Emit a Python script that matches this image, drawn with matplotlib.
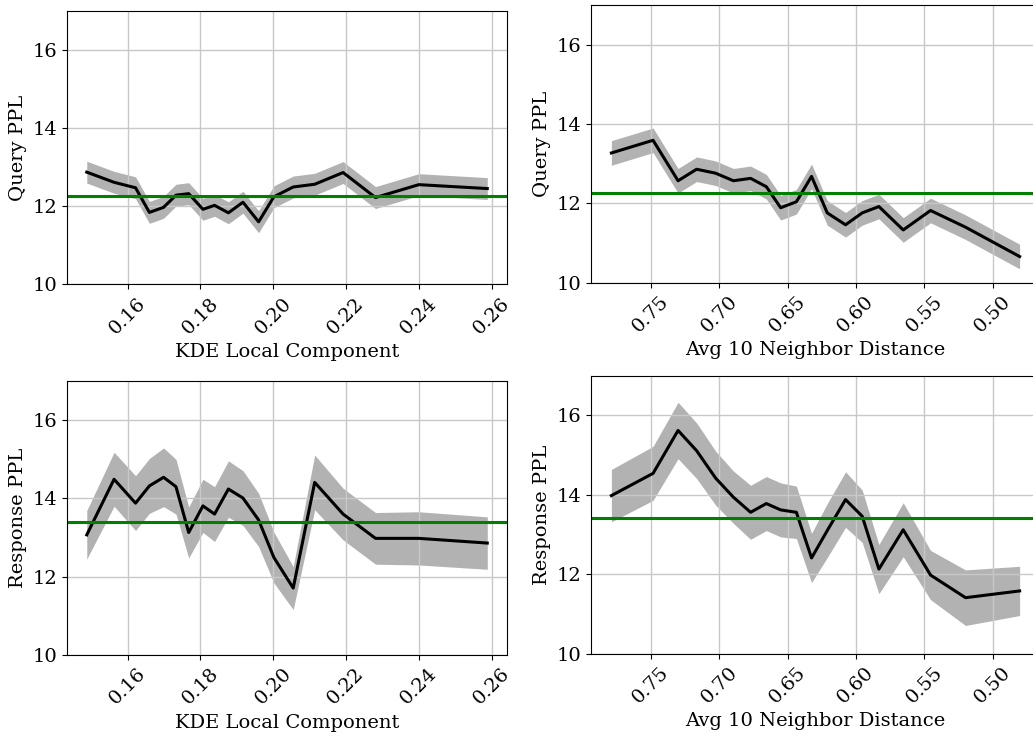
import matplotlib
matplotlib.use("Agg")
import matplotlib.pyplot as plt
import numpy as np

plt.rcParams["font.family"] = "DejaVu Serif"

# KDE bins (shared by both left panels)
kde_x = [0.1488, 0.1563, 0.1622, 0.1660, 0.1699, 0.1733, 0.1768, 0.1807, 0.1839, 0.1877,
         0.1917, 0.1960, 0.2002, 0.2055, 0.2114, 0.2192, 0.2281, 0.2400, 0.2588]
kde_query = [12.87, 12.61, 12.47, 11.84, 11.97, 12.28, 12.32, 11.92, 12.02, 11.83,
             12.10, 11.60, 12.24, 12.49, 12.56, 12.86, 12.22, 12.55, 12.45]
kde_query_err = [0.28] * 19
kde_resp = [13.07, 14.49, 13.88, 14.32, 14.54, 14.30, 13.13, 13.81, 13.60, 14.24,
            14.01, 13.45, 12.49, 11.71, 14.41, 13.60, 12.98, 12.98, 12.86]
kde_resp_err = [0.62, 0.69, 0.70, 0.70, 0.75, 0.70, 0.65, 0.68, 0.70, 0.72,
                0.70, 0.68, 0.65, 0.55, 0.70, 0.66, 0.66, 0.68, 0.67]

# neighbour distance bins (shared by both right panels)
nbr_x = [0.7790, 0.7485, 0.7302, 0.7166, 0.7027, 0.6897, 0.6771, 0.6656, 0.6551, 0.6436,
         0.6325, 0.6210, 0.6076, 0.5954, 0.5832, 0.5654, 0.5454, 0.5198, 0.4802]
nbr_query = [13.27, 13.59, 12.57, 12.86, 12.76, 12.57, 12.63, 12.42, 11.89, 12.04,
             12.68, 11.76, 11.46, 11.76, 11.92, 11.33, 11.82, 11.40, 10.66]
nbr_query_err = [0.31] * 19
nbr_resp = [13.98, 14.54, 15.62, 15.11, 14.42, 13.94, 13.56, 13.78, 13.62, 13.56,
            12.41, 13.10, 13.88, 13.46, 12.13, 13.12, 11.98, 11.41, 11.58]
nbr_resp_err = [0.66, 0.68, 0.71, 0.70, 0.68, 0.66, 0.68, 0.68, 0.68, 0.66,
                0.62, 0.68, 0.70, 0.66, 0.62, 0.68, 0.62, 0.70, 0.62]

query_mean = 12.27
resp_mean = 13.41


def draw(ax, x, y, err, mean, xlabel, ylabel, invert=False):
    x = np.array(x)
    y = np.array(y)
    err = np.array(err)
    ax.grid(True, color="#c8c8c8", linewidth=1.0)
    ax.fill_between(x, y - err, y + err, color="gray", alpha=0.6, linewidth=0)
    ax.plot(x, y, color="black", linewidth=2.2)
    ax.axhline(mean, color="green", linewidth=2.2)
    ax.set_ylim(10, 17)
    ax.set_yticks([10, 12, 14, 16])
    if invert:
        ax.invert_xaxis()
    ax.set_xlabel(xlabel, fontsize=14)
    ax.set_ylabel(ylabel, fontsize=14)
    ax.tick_params(labelsize=14)
    for lbl in ax.get_xticklabels():
        lbl.set_rotation(45)


fig = plt.figure(figsize=(10.33, 7.33), dpi=100)
ax1 = fig.add_axes([0.0646, 0.6121, 0.4265, 0.3733])
ax2 = fig.add_axes([0.5721, 0.6143, 0.4347, 0.3789])
ax3 = fig.add_axes([0.0646, 0.1064, 0.4265, 0.3738])
ax4 = fig.add_axes([0.5721, 0.1082, 0.4347, 0.3793])

draw(ax1, kde_x, kde_query, kde_query_err, query_mean, "KDE Local Component", "Query PPL")
draw(ax2, nbr_x, nbr_query, nbr_query_err, query_mean, "Avg 10 Neighbor Distance", "Query PPL", invert=True)
draw(ax3, kde_x, kde_resp, kde_resp_err, resp_mean, "KDE Local Component", "Response PPL")
draw(ax4, nbr_x, nbr_resp, nbr_resp_err, resp_mean, "Avg 10 Neighbor Distance", "Response PPL", invert=True)

fig.savefig("out.png", dpi=100)
